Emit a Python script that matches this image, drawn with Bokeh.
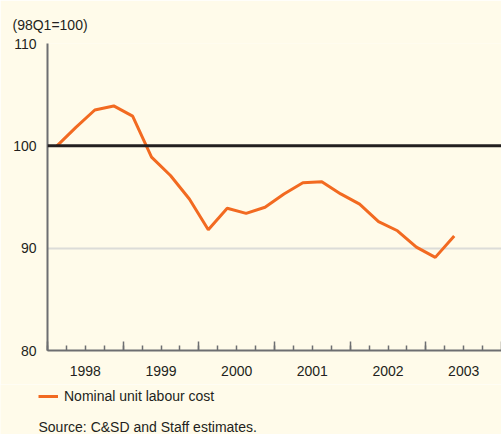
from bokeh.plotting import figure
from bokeh.layouts import column
from bokeh.models import (Range1d, LinearAxis, FixedTicker, Span, Legend, LegendItem, Title,
                          Label)
from bokeh.embed import file_html
from bokeh.resources import INLINE

# ---- data ----
years = [1998, 1999, 2000, 2001, 2002, 2003]
quarters = [1, 2, 3, 4]
periods = [(y, q) for y in years for q in quarters][:22]
ulc = [100.0, 101.8, 103.5, 103.9, 102.9, 98.9, 97.1, 94.8,
       91.8, 93.9, 93.4, 94.0, 95.3, 96.4, 96.5, 95.3,
       94.3, 92.6, 91.7, 90.1, 89.1, 91.2]
y_ticks = [80, 90, 100, 110]
base_value = 100
series_name = "Nominal unit labour cost"
unit_label = "(98Q1=100)"
source_text = "Source: C&SD and Staff estimates."

x = [y + (q - 0.5) / 4 for (y, q) in periods]

BG = "#FFFBEA"
ORANGE = "#F26A21"
GREY = "#6D6E71"
TXT = "#231F20"
FONT = "Liberation Sans"
FS = "14px"

p = figure(width=501, height=384, output_backend="svg", toolbar_location=None,
           x_range=Range1d(years[0], years[-1] + 1), y_range=Range1d(80, 110),
           background_fill_color=BG, border_fill_color=BG, outline_line_color=None,
           min_border_left=47, min_border_right=0, min_border_top=43, min_border_bottom=34,
           x_axis_type=None)

# bottom axis with year-boundary ticks and quarter minor ticks
ax1 = LinearAxis(ticker=FixedTicker(ticks=years + [years[-1] + 1],
                                    minor_ticks=[y + q / 4 for y in years for q in range(4)]))
ax1.axis_line_color = GREY
ax1.axis_line_width = 2
ax1.major_tick_in = 9
ax1.major_tick_out = 0
ax1.minor_tick_in = 5
ax1.minor_tick_out = 0
ax1.major_tick_line_color = GREY
ax1.major_tick_line_width = 1.5
ax1.minor_tick_line_color = GREY
ax1.minor_tick_line_width = 1.5
ax1.major_label_overrides = {t: "" for t in years + [years[-1] + 1]}
ax1.major_label_text_font_size = "1px"
ax1.major_label_standoff = 0
p.add_layout(ax1, "below")

# labels at mid-year
ax2 = LinearAxis(ticker=FixedTicker(ticks=[y + 0.5 for y in years], minor_ticks=[]))
ax2.axis_line_color = None
ax2.major_tick_line_color = None
ax2.minor_tick_line_color = None
ax2.major_tick_in = 0
ax2.major_tick_out = 0
ax2.major_label_standoff = 15
ax2.major_label_text_font = FONT
ax2.major_label_text_font_size = FS
ax2.major_label_text_color = TXT
ax2.major_label_overrides = {y + 0.5: str(y) for y in years}
p.add_layout(ax2, "below")

p.yaxis.ticker = FixedTicker(ticks=y_ticks)
p.yaxis.axis_line_color = GREY
p.yaxis.axis_line_width = 2
p.yaxis.major_tick_line_color = None
p.yaxis.minor_tick_line_color = None
p.yaxis.major_tick_in = 0
p.yaxis.major_tick_out = 0
p.yaxis.major_label_standoff = 11
p.yaxis.major_label_text_font = FONT
p.yaxis.major_label_text_font_size = FS
p.yaxis.major_label_text_color = TXT

p.xgrid.visible = False
p.ygrid.ticker = FixedTicker(ticks=[90])
p.ygrid.grid_line_color = "#DCDCD8"
p.ygrid.grid_line_width = 2

p.add_layout(Span(location=base_value, dimension="width", line_color=TXT, line_width=3))

r = p.line(x, ulc, line_color=ORANGE, line_width=3)

t1 = Title(text=unit_label, align="left", offset=-35, text_font=FONT,
           text_font_size=FS, text_font_style="normal", text_color=TXT, standoff=22)
p.add_layout(t1, "above")

# ---- footer: legend + source ----
p2 = figure(width=501, height=50, output_backend="svg", toolbar_location=None,
            x_range=Range1d(0, 1), y_range=Range1d(0, 1),
            x_axis_type=None, y_axis_type=None,
            background_fill_color=BG, border_fill_color=BG, outline_line_color=None,
            min_border=0, min_border_left=0, min_border_right=0,
            min_border_top=0, min_border_bottom=0)
p2.xgrid.visible = False
p2.ygrid.visible = False
# legend key renderer: same series, lies outside this footer's ranges
key = p2.line(x, ulc, line_color=ORANGE, line_width=3)
legend = Legend(items=[LegendItem(label=series_name, renderers=[key])],
                location=(38, 28), background_fill_alpha=0, border_line_color=None,
                padding=0, margin=0, glyph_width=20, glyph_height=20, label_standoff=6,
                label_text_font=FONT, label_text_font_size=FS, label_text_color=TXT)
p2.add_layout(legend, "center")
p2.add_layout(Label(x=38, y=8, x_units="screen", y_units="screen", text=source_text,
                    text_font=FONT, text_font_size=FS, text_color=TXT,
                    text_baseline="middle"))

layout = column(p, column(p2, spacing=0), spacing=0)
html = file_html(layout, INLINE)
html = html.replace("<body>", '<body style="background:%s">' % BG, 1)
open("out.html", "w").write(html)
